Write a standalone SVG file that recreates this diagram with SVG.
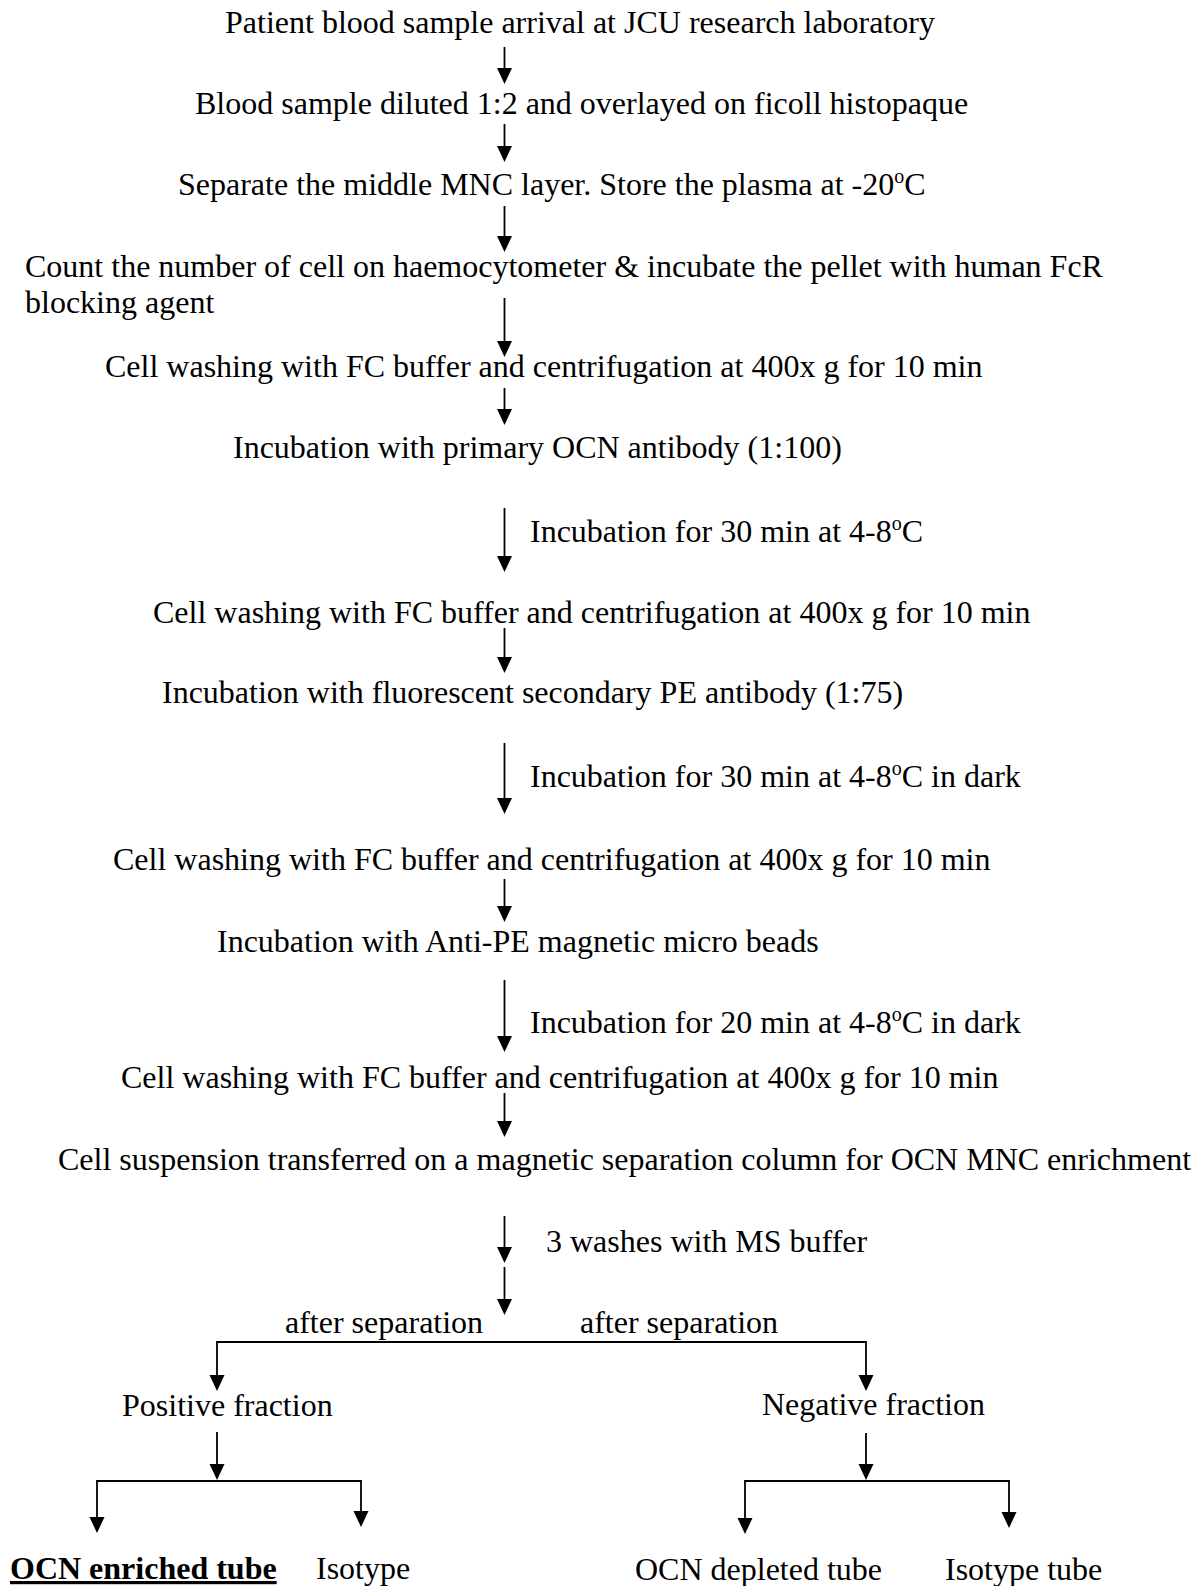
<svg xmlns="http://www.w3.org/2000/svg" xmlns:xlink="http://www.w3.org/1999/xlink" width="1201" height="1586" viewBox="0 0 1201 1586">
<style>
text{font-family:"Liberation Serif","Times New Roman",serif;font-size:32px;fill:#000}
.sup{font-size:20px}
.b{font-weight:bold;text-decoration:underline}
.c{stroke:#000;stroke-width:1.8;fill:none}
</style>
<defs>
<path id="h" d="M-7.5,-16 L7.5,-16 L0,0 z" fill="#000"/>
</defs>
<rect width="1201" height="1586" fill="#fff"/>
<g id="connectors">
<path class="c" d="M504.5,47 V70 M504.5,124 V148 M504.5,206 V238 M504.5,298 V343 M504.5,388 V411 M504.5,508 V558 M504.5,628 V659 M504.5,743 V800 M504.5,879 V908 M504.5,980 V1038 M504.5,1093 V1123 M504.5,1216 V1249 M504.5,1267 V1301"/>
<path class="c" d="M217,1377 V1342 H866 V1377 M217,1432 V1466 M866,1433 V1466 M97,1519 V1481 H361 V1513 M745,1520 V1481 H1009 V1514"/>
<use xlink:href="#h" x="504.5" y="84"/>
<use xlink:href="#h" x="504.5" y="162"/>
<use xlink:href="#h" x="504.5" y="252"/>
<use xlink:href="#h" x="504.5" y="357"/>
<use xlink:href="#h" x="504.5" y="425"/>
<use xlink:href="#h" x="504.5" y="572"/>
<use xlink:href="#h" x="504.5" y="673"/>
<use xlink:href="#h" x="504.5" y="814"/>
<use xlink:href="#h" x="504.5" y="922"/>
<use xlink:href="#h" x="504.5" y="1052"/>
<use xlink:href="#h" x="504.5" y="1137"/>
<use xlink:href="#h" x="504.5" y="1263"/>
<use xlink:href="#h" x="504.5" y="1315"/>
<use xlink:href="#h" x="217" y="1391"/>
<use xlink:href="#h" x="866" y="1391"/>
<use xlink:href="#h" x="217" y="1480"/>
<use xlink:href="#h" x="866" y="1480"/>
<use xlink:href="#h" x="97" y="1533"/>
<use xlink:href="#h" x="361" y="1527"/>
<use xlink:href="#h" x="745" y="1534"/>
<use xlink:href="#h" x="1009" y="1528"/>
</g>
<g id="n1"><text x="225" y="33">Patient blood sample arrival at JCU research laboratory</text></g>
<g id="n2"><text x="195" y="114">Blood sample diluted 1:2 and overlayed on ficoll histopaque</text></g>
<g id="n3"><text x="178" y="195">Separate the middle MNC layer. Store the plasma at -20<tspan class="sup" dy="-12">o</tspan><tspan dy="12">C</tspan></text></g>
<g id="n4"><text x="25" y="277">Count the number of cell on haemocytometer &amp; incubate the pellet with human FcR</text><text x="25" y="313">blocking agent</text></g>
<g id="n5"><text x="105" y="377">Cell washing with FC buffer and centrifugation at 400x g for 10 min</text></g>
<g id="n6"><text x="233" y="458">Incubation with primary OCN antibody (1:100)</text></g>
<g id="l1"><text x="530" y="542">Incubation for 30 min at 4-8<tspan class="sup" dy="-12">o</tspan><tspan dy="12">C</tspan></text></g>
<g id="n7"><text x="153" y="623">Cell washing with FC buffer and centrifugation at 400x g for 10 min</text></g>
<g id="n8"><text x="162" y="703">Incubation with fluorescent secondary PE antibody (1:75)</text></g>
<g id="l2"><text x="530" y="787">Incubation for 30 min at 4-8<tspan class="sup" dy="-12">o</tspan><tspan dy="12">C in dark</tspan></text></g>
<g id="n9"><text x="113" y="870">Cell washing with FC buffer and centrifugation at 400x g for 10 min</text></g>
<g id="n10"><text x="217" y="952">Incubation with Anti-PE magnetic micro beads</text></g>
<g id="l3"><text x="530" y="1033">Incubation for 20 min at 4-8<tspan class="sup" dy="-12">o</tspan><tspan dy="12">C in dark</tspan></text></g>
<g id="n11"><text x="121" y="1088">Cell washing with FC buffer and centrifugation at 400x g for 10 min</text></g>
<g id="n12"><text x="58" y="1170">Cell suspension transferred on a magnetic separation column for OCN MNC enrichment</text></g>
<g id="l4"><text x="546" y="1252">3 washes with MS buffer</text></g>
<g id="l5"><text x="285" y="1333">after separation</text><text x="580" y="1333">after separation</text></g>
<g id="n13"><text x="122" y="1416">Positive fraction</text></g>
<g id="n14"><text x="762" y="1415">Negative fraction</text></g>
<g id="n15"><text class="b" x="10" y="1579">OCN enriched tube</text></g>
<g id="n16"><text x="316" y="1579">Isotype</text></g>
<g id="n17"><text x="635" y="1580">OCN depleted tube</text></g>
<g id="n18"><text x="945" y="1580">Isotype tube</text></g>
</svg>
